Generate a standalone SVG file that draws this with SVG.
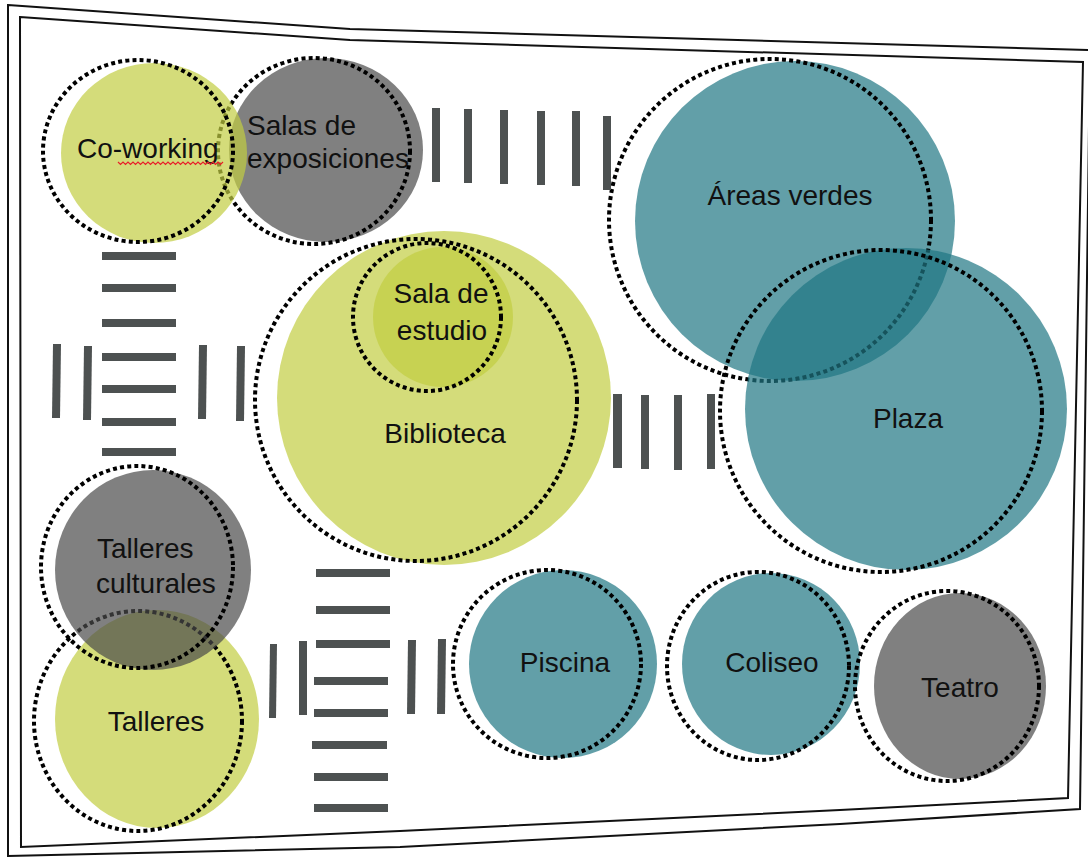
<svg xmlns="http://www.w3.org/2000/svg" width="1088" height="857" viewBox="0 0 1088 857">
<style>
.green{fill:#c2cd41;fill-opacity:0.7}
.gray{fill:#4a4a4a;fill-opacity:0.7}
.teal{fill:#207683;fill-opacity:0.7}
.dot{fill:none;stroke:#000;stroke-width:4;stroke-dasharray:4 3.2}
.lbl{font-family:"Liberation Sans",Arial,sans-serif;font-size:28px;fill:#111}
.mid{text-anchor:middle}
.bar{fill:#4d5151}
.edge{fill:none;stroke:#111;stroke-width:2;stroke-linejoin:miter}
</style>
<rect width="1088" height="857" fill="#fff"/>
<g id="site-boundary">
<path class="edge" d="M8,5 L350,29 L1090,50 L1080,809 L840,824 L400,847 L8,856 Z"/>
<path class="edge" d="M20,17 L350,40 L1083,62 L1068,798 L840,810 L400,831 L21,847 Z"/>
</g>
<g id="salas-de-exposiciones">
<ellipse class="gray" cx="326" cy="150" rx="97" ry="92"/>
<ellipse class="dot" cx="314" cy="151" rx="96" ry="93"/>
<text class="lbl" x="247" y="135">Salas de</text>
<text class="lbl" x="247" y="168">exposiciones</text>
</g>
<g id="co-working">
<ellipse class="green" cx="154" cy="153" rx="93" ry="90"/>
<ellipse class="dot" cx="138" cy="151" rx="95" ry="91"/>
<text class="lbl" x="77" y="158">Co-working</text>
<path d="M118,162 l2.5,2.5 2.5,-2.5 2.5,2.5 2.5,-2.5 2.5,2.5 2.5,-2.5 2.5,2.5 2.5,-2.5 2.5,2.5 2.5,-2.5 2.5,2.5 2.5,-2.5 2.5,2.5 2.5,-2.5 2.5,2.5 2.5,-2.5 2.5,2.5 2.5,-2.5 2.5,2.5 2.5,-2.5 2.5,2.5 2.5,-2.5 2.5,2.5 2.5,-2.5 2.5,2.5 2.5,-2.5 2.5,2.5 2.5,-2.5 2.5,2.5 2.5,-2.5 2.5,2.5 2.5,-2.5 2.5,2.5 2.5,-2.5 2.5,2.5 2.5,-2.5 2.5,2.5 2.5,-2.5 2.5,2.5 2.5,-2.5 2.5,2.5 2.5,-2.5" fill="none" stroke="#e8202a" stroke-width="1.2"/>
</g>
<g id="areas-verdes">
<circle class="teal" cx="795" cy="221" r="160"/>
<circle class="dot" cx="770" cy="220" r="161"/>
<text class="lbl mid" x="790" y="205">Áreas verdes</text>
</g>
<g id="plaza">
<circle class="teal" cx="906" cy="409" r="161"/>
<circle class="dot" cx="881" cy="411" r="161"/>
<text class="lbl mid" x="908" y="428">Plaza</text>
</g>
<g id="biblioteca">
<circle class="green" cx="444" cy="398" r="167"/>
<circle class="dot" cx="416" cy="400" r="161"/>
<text class="lbl mid" x="445" y="443">Biblioteca</text>
</g>
<g id="sala-de-estudio">
<circle class="green" cx="443" cy="317" r="70"/>
<circle class="dot" cx="427" cy="317" r="74"/>
<text class="lbl mid" x="441" y="303">Sala de</text>
<text class="lbl mid" x="442" y="340">estudio</text>
</g>
<g id="talleres">
<ellipse class="green" cx="157" cy="719" rx="102" ry="109"/>
<ellipse class="dot" cx="138" cy="721" rx="104" ry="110"/>
<text class="lbl mid" x="156" y="731">Talleres</text>
</g>
<g id="talleres-culturales">
<ellipse class="gray" cx="153" cy="570" rx="98" ry="100"/>
<ellipse class="dot" cx="137" cy="567" rx="96" ry="101"/>
<text class="lbl" x="97" y="558">Talleres</text>
<text class="lbl" x="96" y="593">culturales</text>
</g>
<g id="piscina">
<circle class="teal" cx="563" cy="664" r="94"/>
<circle class="dot" cx="547" cy="664" r="94"/>
<text class="lbl mid" x="565" y="672">Piscina</text>
</g>
<g id="coliseo">
<ellipse class="teal" cx="771" cy="664" rx="89" ry="91"/>
<ellipse class="dot" cx="758" cy="666" rx="91" ry="94"/>
<text class="lbl mid" x="772" y="672">Coliseo</text>
</g>
<g id="teatro">
<ellipse class="gray" cx="960" cy="686" rx="86" ry="93"/>
<ellipse class="dot" cx="947" cy="686" rx="92" ry="95"/>
<text class="lbl mid" x="960" y="697">Teatro</text>
</g>
<g id="connectors">
<rect class="bar" x="432" y="108" width="8" height="74"/>
<rect class="bar" x="464" y="109" width="8" height="74"/>
<rect class="bar" x="500" y="110" width="8" height="74"/>
<rect class="bar" x="537" y="111" width="8" height="74"/>
<rect class="bar" x="572" y="111" width="8" height="75"/>
<rect class="bar" x="603" y="116" width="8" height="74"/>
<rect class="bar" x="102" y="252" width="74" height="8"/>
<rect class="bar" x="102" y="284" width="74" height="8"/>
<rect class="bar" x="102" y="319" width="74" height="8"/>
<rect class="bar" x="102" y="353" width="74" height="8"/>
<rect class="bar" x="102" y="385" width="74" height="8"/>
<rect class="bar" x="102" y="418" width="74" height="8"/>
<rect class="bar" x="102" y="448" width="74" height="8"/>
<polygon class="bar" points="53,344 61,344 60,418 52,418"/>
<polygon class="bar" points="84,346 92,346 91,420 83,420"/>
<polygon class="bar" points="199,345 207,345 206,419 198,419"/>
<polygon class="bar" points="237,346 245,346 244,421 236,421"/>
<rect class="bar" x="613" y="394" width="9" height="74"/>
<rect class="bar" x="641" y="395" width="8" height="74"/>
<rect class="bar" x="674" y="395" width="8" height="75"/>
<rect class="bar" x="707" y="394" width="8" height="75"/>
<rect class="bar" x="316" y="569" width="74" height="8"/>
<rect class="bar" x="316" y="606" width="74" height="8"/>
<rect class="bar" x="316" y="640" width="74" height="8"/>
<rect class="bar" x="314" y="677" width="74" height="8"/>
<rect class="bar" x="314" y="709" width="74" height="8"/>
<rect class="bar" x="312" y="741" width="75" height="8"/>
<rect class="bar" x="314" y="773" width="74" height="8"/>
<rect class="bar" x="314" y="804" width="74" height="8"/>
<polygon class="bar" points="270,644 277,644 276,718 269,718"/>
<polygon class="bar" points="299,641 307,641 307,715 299,715"/>
<polygon class="bar" points="408,640 416,640 415,714 407,714"/>
<polygon class="bar" points="438,639 446,639 445,714 437,714"/>
</g>
</svg>
